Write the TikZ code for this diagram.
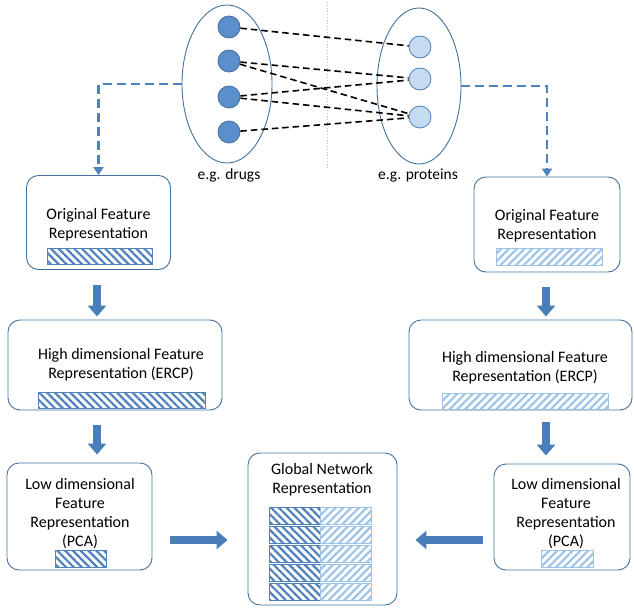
\documentclass[tikz,border=0pt]{standalone}
\usepackage{fontspec}
\setmainfont{Carlito}
\usetikzlibrary{shapes.geometric,patterns.meta,arrows.meta}
\definecolor{edge}{HTML}{41719C}
\definecolor{drug}{HTML}{5B8FCB}
\definecolor{prot}{HTML}{C5DCF0}
\definecolor{dkhatch}{HTML}{4F81BD}
\definecolor{lthatch}{HTML}{9DC3E6}
\definecolor{arrowc}{HTML}{4A7EBB}
\tikzset{
  box/.style={draw=edge, line width=0.9pt, rounded corners=12pt, inner sep=0},
  lbl/.style={font=\fontsize{16}{19}\selectfont, align=center, inner sep=0},
  small/.style={font=\fontsize{15.5}{17}\selectfont, inner sep=0},
  dkbar/.style={draw=dkhatch, line width=0.9pt, inner sep=0,
    pattern={Lines[angle=-45,distance=5.5pt,line width=2.2pt]}, pattern color=dkhatch},
  ltbar/.style={draw=lthatch, line width=0.9pt, inner sep=0,
    pattern={Lines[angle=45,distance=5.5pt,line width=2.2pt]}, pattern color=lthatch},
  drugn/.style={circle, fill=drug, draw=edge, line width=0.8pt, minimum size=22pt, inner sep=0},
  protn/.style={circle, fill=prot, draw=dkhatch, line width=0.8pt, minimum size=22pt, inner sep=0},
  group/.style={ellipse, draw=edge, line width=0.9pt, inner sep=0},
  link/.style={black, line width=1.6pt, dash pattern=on 6.5pt off 4pt},
  feed/.style={draw=dkhatch, line width=2.5pt, dash pattern=on 9pt off 5pt,
    -{Triangle[width=10pt,length=8pt]}},
  blockarrow/.style={draw=arrowc, line width=8.5pt, -{Triangle[width=18pt,length=11pt]}},
}
\begin{document}
\begin{tikzpicture}[x=1pt,y=-1pt]
\useasboundingbox (0,0) rectangle (634,610);

% groups
\node[group, minimum width=90pt, minimum height=158pt] (eL) at (227,84) {};
\node[group, minimum width=84pt, minimum height=156pt] (eR) at (419,86) {};
\draw[lthatch, line width=1pt, dotted] (327,2) -- (327,168);

\node[drugn] (d1) at (229,27) {};
\node[drugn] (d2) at (229,61) {};
\node[drugn] (d3) at (229,97) {};
\node[drugn] (d4) at (229,132) {};
\node[protn] (p1) at (420,47) {};
\node[protn] (p2) at (420,79) {};
\node[protn] (p3) at (420,117) {};

\draw[link] (d1) -- (p1);
\draw[link] (d2) -- (p2);
\draw[link] (d2) -- (p3);
\draw[link] (d3) -- (p2);
\draw[link] (d3) -- (p3);
\draw[link] (d4) -- (p3);

\node[small] (tL) at (229,175) {e.g. drugs};
\node[small] (tR) at (418,175) {e.g. proteins};

% boxes
\node[box, minimum width=144pt, minimum height=94pt] (o1) at (98.5,222.5) {};
\node[box, minimum width=146pt, minimum height=95pt] (o2) at (547,224.5) {};
\node[box, minimum width=214pt, minimum height=90pt] (h1) at (115,365) {};
\node[box, minimum width=223pt, minimum height=90pt] (h2) at (520.5,365) {};
\node[box, minimum width=145pt, minimum height=107pt] (l1) at (79.5,516.5) {};
\node[box, minimum width=136pt, minimum height=106pt] (l2) at (562,517) {};
\node[box, minimum width=149pt, minimum height=152pt] (g) at (322.5,529) {};

% labels
\node[lbl] (to1) at (98.5,224.5) {Original Feature\\Representation};
\node[lbl] (to2) at (547,226) {Original Feature\\Representation};
\node[lbl] (th1) at (121,365) {High dimensional Feature\\Representation (ERCP)};
\node[lbl] (th2) at (525,367.5) {High dimensional Feature\\Representation (ERCP)};
\node[lbl] (tl1) at (80,514) {Low dimensional\\Feature\\Representation\\(PCA)};
\node[lbl] (tl2) at (566,514) {Low dimensional\\Feature\\Representation\\(PCA)};
\node[lbl] (tg) at (322,480) {Global Network\\Representation};

% bars
\draw[dkbar] (47,248) rectangle (152,264);
\draw[ltbar] (496,248) rectangle (602,265);
\draw[dkbar] (38,392) rectangle (205,408);
\draw[ltbar] (442,393) rectangle (608,409);
\draw[dkbar] (55,550) rectangle (106,567);
\draw[ltbar] (541,550) rectangle (593,567);
\foreach \y in {507,526,545,564,583}{
  \draw[dkbar] (269,\y) rectangle (320,\y+17);
  \draw[ltbar] (320,\y) rectangle (371,\y+17);
}

% feed connectors
\draw[feed] (eL.west) -| (o1.north);
\draw[feed] (eR.east) -| (o2.north);

% block arrows
\draw[blockarrow, shorten <=15pt, shorten >=3pt] (o1.south -| 97,0) -- (h1.north -| 97,0);
\draw[blockarrow, shorten <=15pt, shorten >=3pt] (o2.south -| 546,0) -- (h2.north -| 546,0);
\draw[blockarrow, shorten <=15pt, shorten >=8pt] (h1.south -| 97,0) -- (l1.north -| 97,0);
\draw[blockarrow, shorten <=12pt, shorten >=8pt] (h2.south -| 546,0) -- (l2.north -| 546,0);
\draw[blockarrow, shorten <=18pt, shorten >=20pt] (l1.east |- 0,540) -- (g.west |- 0,540);
\draw[blockarrow, shorten <=11pt, shorten >=18pt] (l2.west |- 0,540) -- (g.east |- 0,540);
\end{tikzpicture}
\end{document}
